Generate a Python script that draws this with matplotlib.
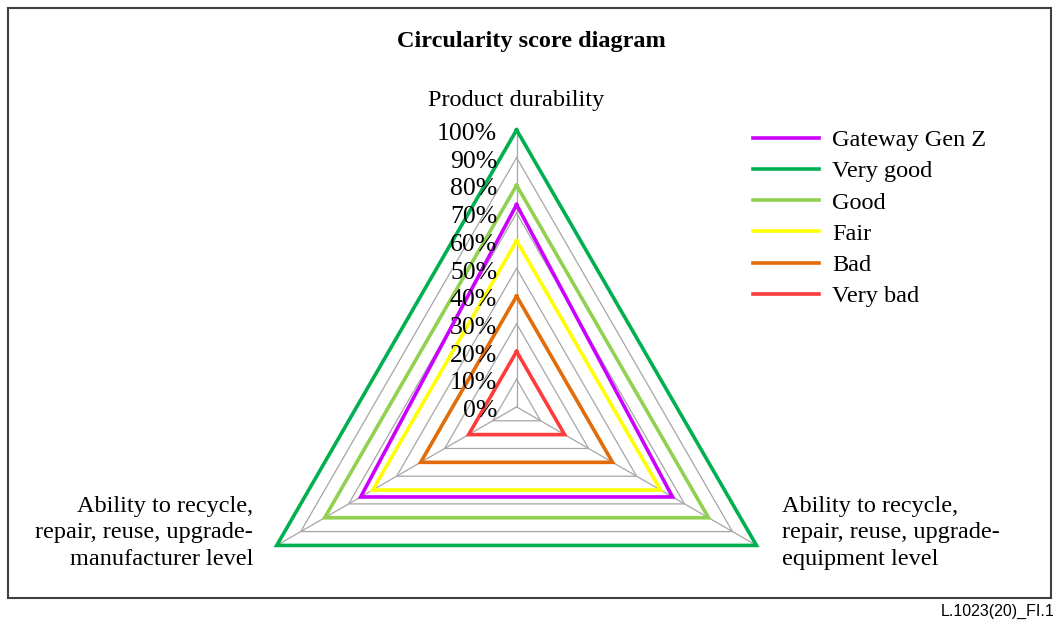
import numpy as np
import matplotlib.pyplot as plt
from matplotlib.patches import Rectangle

# Axes of the radar (clockwise from top)
axes_labels = ['Product durability',
               'Ability to recycle,\nrepair, reuse, upgrade-\nequipment level',
               'Ability to recycle,\nrepair, reuse, upgrade-\nmanufacturer level']

# Series values in percent (one value per axis)
series_names = ['Gateway Gen Z', 'Very good', 'Good', 'Fair', 'Bad', 'Very bad']
gateway = [73, 65, 65]
very_good = [100, 100, 100]
good = [80, 80, 80]
fair = [60, 60, 60]
bad = [40, 40, 40]
very_bad = [20, 20, 20]
series_values = [gateway, very_good, good, fair, bad, very_bad]
series_colors = ['#CC00FF', '#00B050', '#92D050', '#FFFF00', '#E26B0A', '#FF3B3B']

grid_levels = [0, 10, 20, 30, 40, 50, 60, 70, 80, 90, 100]
tick_labels = ['0%', '10%', '20%', '30%', '40%', '50%', '60%', '70%', '80%', '90%', '100%']

plt.rcParams['font.family'] = ['Liberation Serif', 'DejaVu Serif']

# angles: top, bottom right, bottom left
angles = np.deg2rad([90, -30, 210])


def to_xy(vals):
    vals = np.asarray(vals, dtype=float)
    x = vals * np.cos(angles)
    y = vals * np.sin(angles)
    return np.append(x, x[0]), np.append(y, y[0])


fig = plt.figure(figsize=(10.54, 6.23), dpi=100)
ax = fig.add_axes([0, 0, 1, 1])
ax.set_xlim(-186.5, 194.0)
ax.set_ylim(-78.0, 146.9)
ax.axis('off')

# grid triangles and spokes
for lev in grid_levels[1:]:
    gx, gy = to_xy([lev] * 3)
    ax.plot(gx, gy, color='#A6A6A6', lw=0.9, zorder=1, solid_joinstyle='miter')
for a in angles:
    ax.plot([0, 100 * np.cos(a)], [0, 100 * np.sin(a)], color='#A6A6A6', lw=0.9, zorder=1)

# series
handles = []
for name, vals, col in zip(series_names, series_values, series_colors):
    sx, sy = to_xy(vals)
    h, = ax.plot(sx, sy, color=col, lw=2.6, label=name, zorder=3, solid_joinstyle='miter')
    handles.append(h)

# radial tick labels
for lev, lab in zip(grid_levels, tick_labels):
    ax.text(-7, lev - 1.5, lab, ha='right', va='center', fontsize=18.5, zorder=4)

# axis labels
ax.text(0, 110.6, axes_labels[0], ha='center', va='center', fontsize=17.5)
ax.text(95.7, -45.5, axes_labels[1], ha='left', va='center', fontsize=17.5,
        linespacing=1.33)
ax.text(-95.2, -45.5, axes_labels[2], ha='right', va='center', fontsize=17.5,
        linespacing=1.33, multialignment='right')

# title
fig.text(531.5 / 1054, 1 - 41 / 623, 'Circularity score diagram', ha='center', va='center',
         fontsize=17.5, fontweight='bold')

# legend
fig.legend(handles=handles, loc='upper left', bbox_to_anchor=(753 / 1054, 1 - 129 / 623),
           frameon=False, fontsize=17.5, handlelength=2.7, handletextpad=0.55,
           labelspacing=0.38, borderpad=0, borderaxespad=0)

# outer frame
fig.patches.append(Rectangle((8 / 1054, 1 - 598 / 623), (1050.5 - 8) / 1054, (598 - 8) / 623,
                             transform=fig.transFigure, fill=False, edgecolor='#404040',
                             lw=1.5))

# figure code
fig.text(1.0, 1 - 611 / 623, 'L.1023(20)_FI.1', ha='right', va='center', fontsize=11.5,
         family=['Liberation Sans', 'DejaVu Sans'])

fig.savefig('out.png', dpi=100)
